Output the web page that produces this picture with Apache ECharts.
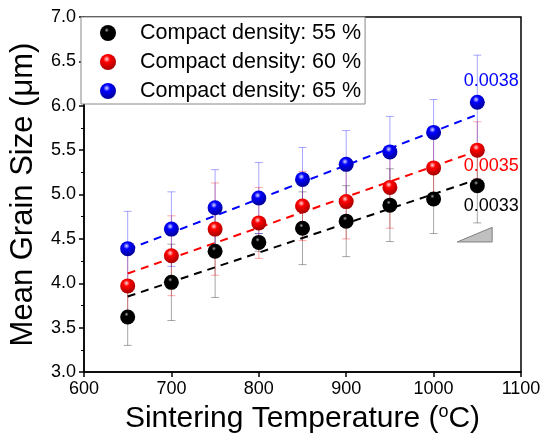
<!DOCTYPE html>
<html>
<head>
<meta charset="utf-8">
<script src="https://cdn.jsdelivr.net/npm/echarts@6/dist/echarts.min.js"></script>
<style>
html,body{margin:0;padding:0;background:#fff;}
#chart{width:550px;height:441px;}
</style>
</head>
<body>
<div id="chart"></div>
<script>
// ---- data ----
const temps = [650, 700, 750, 800, 850, 900, 950, 1000, 1050];
const size55 = [3.62, 4.01, 4.36, 4.46, 4.62, 4.70, 4.88, 4.95, 5.10];
const err55  = [0.32, 0.43, 0.52, 0.10, 0.41, 0.40, 0.41, 0.39, 0.42];
const size60 = [3.97, 4.31, 4.61, 4.68, 4.87, 4.92, 5.08, 5.30, 5.50];
const err60  = [0.35, 0.45, 0.52, 0.40, 0.39, 0.42, 0.46, 0.35, 0.32];
const size65 = [4.39, 4.61, 4.85, 4.96, 5.17, 5.34, 5.48, 5.70, 6.04];
const err65  = [0.42, 0.42, 0.43, 0.40, 0.36, 0.38, 0.40, 0.37, 0.53];
const fitX   = [650, 1050];
const fit55  = [3.85, 5.17];
const fit60  = [4.11, 5.49];
const fit65  = [4.38, 5.90];
const slopes = ['0.0033', '0.0035', '0.0038'];
const names  = ['Compact density: 55 %', 'Compact density: 60 %', 'Compact density: 65 %'];
const yTicks = [3.0, 3.5, 4.0, 4.5, 5.0, 5.5, 6.0, 6.5, 7.0];
const xTicks = [600, 700, 800, 900, 1000, 1100];
const triangle = [[1027, 4.465], [1067, 4.465], [1067, 4.63]];

// ---- styles ----
const base  = ['#000000', '#ff0000', '#0000ff'];
const dark  = ['#000000', '#a00000', '#000090'];
const light = ['#a8a8a8', '#ffd8d8', '#d8d8ff'];
const stop1 = [0.2, 0.3, 0.3];
const errCol = ['rgba(0,0,0,0.35)', 'rgba(255,0,0,0.35)', 'rgba(0,0,255,0.35)'];
const sizes = [size55, size60, size65];
const errs  = [err55, err60, err65];
const fits  = [fit55, fit60, fit65];
const labelPos = [[1066, 4.87], [1066, 5.32], [1066, 6.28]];

function sphere(i) {
  return {
    type: 'radial', x: 0.42, y: 0.32, r: 0.7,
    colorStops: [
      {offset: 0, color: light[i]},
      {offset: stop1[i], color: base[i]},
      {offset: 1, color: dark[i]}
    ]
  };
}

function errRender(color) {
  return function (params, api) {
    const x = api.value(0), lo = api.value(1), hi = api.value(2);
    const p1 = api.coord([x, lo]), p2 = api.coord([x, hi]);
    const w = 4;
    return {
      type: 'group',
      children: [
        {type: 'line', shape: {x1: p1[0], y1: p1[1], x2: p2[0], y2: p2[1]}, style: {stroke: color, lineWidth: 1}},
        {type: 'line', shape: {x1: p1[0] - w, y1: p1[1], x2: p1[0] + w, y2: p1[1]}, style: {stroke: color, lineWidth: 1}},
        {type: 'line', shape: {x1: p2[0] - w, y1: p2[1], x2: p2[0] + w, y2: p2[1]}, style: {stroke: color, lineWidth: 1}}
      ]
    };
  };
}

const series = [];
for (let i = 0; i < 3; i++) {
  series.push({
    type: 'custom', name: 'err' + i, z: 2, silent: true,
    renderItem: errRender(errCol[i]),
    encode: {x: 0, y: [1, 2]},
    data: temps.map((t, k) => [t, sizes[i][k] - errs[i][k], sizes[i][k] + errs[i][k]])
  });
}
for (let i = 0; i < 3; i++) {
  series.push({
    type: 'line', name: 'fit' + i, z: 3, silent: true, symbol: 'none',
    lineStyle: {color: base[i], width: 2, type: [8, 6]},
    data: fitX.map((x, k) => [x, fits[i][k]])
  });
}
for (let i = 0; i < 3; i++) {
  series.push({
    type: 'scatter', name: names[i], z: 5 + i, symbol: 'circle', symbolSize: 15,
    itemStyle: {color: sphere(i), opacity: 1},
    data: temps.map((t, k) => [t, sizes[i][k]])
  });
}
for (let i = 0; i < 3; i++) {
  series.push({
    type: 'scatter', name: 'lbl' + i, z: 10, symbolSize: 0, silent: true,
    itemStyle: {opacity: 1},
    label: {show: true, position: 'inside', formatter: slopes[i], fontSize: 18,
      fontFamily: 'Liberation Sans, Arial, sans-serif', color: base[i]},
    data: [labelPos[i]]
  });
}
series.push({
  type: 'custom', name: 'tri', z: 4, silent: true,
  renderItem: function (params, api) {
    const pts = triangle.map(p => api.coord(p));
    return {type: 'polygon', shape: {points: pts}, style: {fill: '#c0c0c0', stroke: '#808080', lineWidth: 1}};
  },
  data: [[triangle[0][0], triangle[0][1]]]
});

const chart = echarts.init(document.getElementById('chart'));
chart.setOption({
  animation: false,
  textStyle: {fontFamily: 'Liberation Sans, Arial, sans-serif'},
  grid: {left: 81, right: 29, top: 17, bottom: 69, show: true, borderColor: '#000', borderWidth: 1.5, backgroundColor: 'transparent'},
  legend: {
    data: names, orient: 'vertical', left: 81, top: 17,
    padding: [5, 4, 2, 19], itemGap: 7, itemWidth: 16, itemHeight: 16,
    backgroundColor: '#fff', borderColor: '#888', borderWidth: 1, borderRadius: 0,
    textStyle: {fontSize: 21.5, color: '#000', padding: [0, 0, 0, 19]},
    selectedMode: false
  },
  xAxis: {
    type: 'value', min: xTicks[0], max: xTicks[xTicks.length - 1], interval: 100,
    name: 'Sintering Temperature ({sup|o}C)', nameLocation: 'middle', nameGap: 31,
    nameTextStyle: {fontSize: 30, color: '#000', rich: {sup: {fontSize: 18, color: '#000', verticalAlign: 'top', padding: [0, 0, 14, 0]}}},
    axisLine: {lineStyle: {color: '#000', width: 1.5}},
    axisTick: {inside: false, length: 5, lineStyle: {color: '#000', width: 1.5}},
    axisLabel: {fontSize: 18, color: '#000', margin: 8, formatter: v => String(v)},
    splitLine: {show: false}
  },
  yAxis: {
    type: 'value', min: yTicks[0], max: yTicks[yTicks.length - 1], interval: 0.5,
    name: 'Mean Grain Size (μm)', nameLocation: 'middle', nameGap: 45,
    nameTextStyle: {fontSize: 31, color: '#000'},
    axisLine: {lineStyle: {color: '#000', width: 1.5}},
    axisTick: {inside: false, length: 5, lineStyle: {color: '#000', width: 1.5}},
    minorTick: {show: true, splitNumber: 2, length: 3, lineStyle: {color: '#000', width: 1}},
    axisLabel: {fontSize: 18, color: '#000', margin: 8, formatter: v => v.toFixed(1)},
    splitLine: {show: false}
  },
  series: series
});
</script>
</body>
</html>
